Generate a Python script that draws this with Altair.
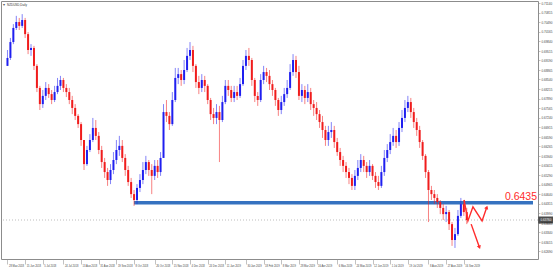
import altair as alt
import pandas as pd

# ---------------- data ----------------
symbol_label = "NZDUSD,Daily"
first_open = 0.6900

close = [
    0.6927, 0.6981, 0.7029, 0.7049, 0.7036, 0.7056, 0.7008, 0.6954, 0.6961, 0.6900,
    0.6825, 0.6770, 0.6798, 0.6825, 0.6804, 0.6784, 0.6811, 0.6832, 0.6852, 0.6825,
    0.6811, 0.6784, 0.6757, 0.6730, 0.6702, 0.6648, 0.6566, 0.6614, 0.6648, 0.6689,
    0.6662, 0.6614, 0.6573, 0.6539, 0.6512, 0.6546, 0.6580, 0.6614, 0.6628, 0.6587,
    0.6546, 0.6505, 0.6464, 0.6444, 0.6485, 0.6512, 0.6546, 0.6573, 0.6546, 0.6526,
    0.6560, 0.6539, 0.6587, 0.6743, 0.6730, 0.6702, 0.6784, 0.6859, 0.6872, 0.6852,
    0.6886, 0.6934, 0.6954, 0.6900, 0.6845, 0.6825, 0.6852, 0.6832, 0.6784, 0.6736,
    0.6723, 0.6743, 0.6716, 0.6777, 0.6832, 0.6818, 0.6791, 0.6811, 0.6798, 0.6838,
    0.6900, 0.6934, 0.6920, 0.6852, 0.6798, 0.6784, 0.6852, 0.6879, 0.6866, 0.6838,
    0.6818, 0.6784, 0.6750, 0.6777, 0.6804, 0.6825, 0.6879, 0.6920, 0.6879, 0.6798,
    0.6818, 0.6791, 0.6811, 0.6770, 0.6757, 0.6736, 0.6709, 0.6682, 0.6648, 0.6675,
    0.6682, 0.6641, 0.6607, 0.6580, 0.6560, 0.6539, 0.6519, 0.6492, 0.6526, 0.6553,
    0.6580, 0.6560, 0.6539, 0.6560, 0.6526, 0.6505, 0.6492, 0.6539, 0.6587, 0.6614,
    0.6641, 0.6662, 0.6641, 0.6689, 0.6723, 0.6757, 0.6777, 0.6743, 0.6709, 0.6682,
    0.6641, 0.6594, 0.6539, 0.6478, 0.6464, 0.6451, 0.6437, 0.6417, 0.6396, 0.6403,
    0.6362, 0.6308, 0.6328, 0.6390, 0.6430, 0.6403, 0.6376,
]
high = [
    0.6954, 0.6995, 0.7042, 0.7070, 0.7063, 0.7076, 0.7063, 0.7015, 0.6974, 0.6968,
    0.6906, 0.6832, 0.6818, 0.6845, 0.6838, 0.6818, 0.6832, 0.6859, 0.6866, 0.6859,
    0.6838, 0.6825, 0.6798, 0.6770, 0.6736, 0.6709, 0.6648, 0.6628, 0.6668, 0.6723,
    0.6716, 0.6675, 0.6628, 0.6587, 0.6553, 0.6566, 0.6607, 0.6648, 0.6662, 0.6648,
    0.6600, 0.6560, 0.6519, 0.6478, 0.6498, 0.6532, 0.6573, 0.6594, 0.6580, 0.6566,
    0.6580, 0.6580, 0.6607, 0.6770, 0.6784, 0.6743, 0.6811, 0.6893, 0.6893, 0.6886,
    0.6920, 0.6961, 0.6981, 0.6968, 0.6906, 0.6866, 0.6872, 0.6866, 0.6838, 0.6791,
    0.6757, 0.6770, 0.6764, 0.6798, 0.6852, 0.6852, 0.6832, 0.6832, 0.6832, 0.6859,
    0.6920, 0.6954, 0.6961, 0.6927, 0.6859, 0.6811, 0.6872, 0.6900, 0.6893, 0.6886,
    0.6852, 0.6825, 0.6791, 0.6798, 0.6825, 0.6852, 0.6906, 0.6940, 0.6934, 0.6900,
    0.6838, 0.6832, 0.6838, 0.6825, 0.6784, 0.6777, 0.6750, 0.6730, 0.6696, 0.6696,
    0.6709, 0.6696, 0.6655, 0.6621, 0.6594, 0.6573, 0.6553, 0.6532, 0.6546, 0.6580,
    0.6600, 0.6594, 0.6573, 0.6580, 0.6566, 0.6539, 0.6526, 0.6560, 0.6614, 0.6634,
    0.6668, 0.6689, 0.6682, 0.6709, 0.6750, 0.6784, 0.6798, 0.6791, 0.6757, 0.6723,
    0.6696, 0.6648, 0.6600, 0.6546, 0.6492, 0.6478, 0.6464, 0.6444, 0.6430, 0.6424,
    0.6410, 0.6369, 0.6349, 0.6410, 0.6451, 0.6444, 0.6417,
]
low = [
    0.6900, 0.6920, 0.6974, 0.7022, 0.7022, 0.7029, 0.6995, 0.6940, 0.6934, 0.6886,
    0.6811, 0.6750, 0.6757, 0.6784, 0.6791, 0.6770, 0.6777, 0.6804, 0.6818, 0.6811,
    0.6794, 0.6770, 0.6736, 0.6716, 0.6689, 0.6628, 0.6546, 0.6560, 0.6607, 0.6641,
    0.6648, 0.6600, 0.6553, 0.6519, 0.6492, 0.6498, 0.6532, 0.6566, 0.6594, 0.6573,
    0.6526, 0.6492, 0.6451, 0.6424, 0.6430, 0.6471, 0.6498, 0.6532, 0.6526, 0.6464,
    0.6512, 0.6519, 0.6526, 0.6648, 0.6709, 0.6682, 0.6696, 0.6777, 0.6838, 0.6832,
    0.6838, 0.6879, 0.6920, 0.6879, 0.6825, 0.6804, 0.6811, 0.6811, 0.6770, 0.6716,
    0.6702, 0.6702, 0.6573, 0.6709, 0.6770, 0.6798, 0.6777, 0.6777, 0.6784, 0.6791,
    0.6832, 0.6886, 0.6900, 0.6832, 0.6777, 0.6764, 0.6777, 0.6838, 0.6845, 0.6818,
    0.6798, 0.6764, 0.6730, 0.6736, 0.6764, 0.6791, 0.6818, 0.6866, 0.6859, 0.6784,
    0.6777, 0.6770, 0.6777, 0.6750, 0.6730, 0.6716, 0.6689, 0.6655, 0.6628, 0.6628,
    0.6655, 0.6621, 0.6594, 0.6560, 0.6539, 0.6519, 0.6498, 0.6478, 0.6478, 0.6512,
    0.6539, 0.6539, 0.6519, 0.6526, 0.6512, 0.6485, 0.6478, 0.6485, 0.6526, 0.6573,
    0.6600, 0.6628, 0.6621, 0.6628, 0.6675, 0.6709, 0.6743, 0.6723, 0.6689, 0.6662,
    0.6621, 0.6580, 0.6519, 0.6369, 0.6444, 0.6430, 0.6417, 0.6396, 0.6376, 0.6369,
    0.6342, 0.6288, 0.6281, 0.6322, 0.6383, 0.6390, 0.6362,
]

# x-axis date labels and the candle they sit on
date_labels = [
    "28 May 2018", "15 Jun 2018", "5 Jul 2018", "24 Jul 2018", "13 Aug 2018",
    "31 Aug 2018", "19 Sep 2018", "8 Oct 2018", "26 Oct 2018", "15 Nov 2018",
    "4 Dec 2018", "24 Dec 2018", "11 Jan 2019", "30 Jan 2019", "18 Feb 2019",
    "8 Mar 2019", "28 Mar 2019", "16 Apr 2019", "6 May 2019", "24 May 2019",
    "12 Jun 2019", "1 Jul 2019", "19 Jul 2019", "8 Aug 2019", "27 Aug 2019",
    "16 Sep 2019",
]
date_label_idx = [0, 6, 12, 19, 25, 31, 37, 43, 50, 56, 62, 68, 74, 81, 87, 93,
                  99, 105, 112, 118, 124, 130, 136, 143, 149, 155]

# right price-axis tick values
price_ticks = [0.71140, 0.70815, 0.70490, 0.70165, 0.69840, 0.69515, 0.69190,
               0.68865, 0.68540, 0.68215, 0.67890, 0.67565, 0.67240, 0.66915,
               0.66590, 0.66265, 0.65940, 0.65615, 0.65290, 0.64965, 0.64640,
               0.64315, 0.63990, 0.63665, 0.63340, 0.63015, 0.62690]

# support / resistance level and its anchor candle
level_price = 0.6435
level_label = "0.6435"
level_start_idx = 43

# hand-drawn red arrows (candle index, price)
zig_idx = [155.1, 156.4, 158.1, 161.2, 162.8]
zig_price = [0.6444, 0.6373, 0.6421, 0.6373, 0.6419]
down_idx = [157.5, 160.3]
down_price = [0.6362, 0.6283]

x_domain = [-0.5, 178.5]
y_domain = [0.62434, 0.71206]

BLUE = "#1f1ff0"
RED = "#f01c1c"
ARROW_RED = "#ff2b2b"

# ---------------- build frames ----------------
n = len(close)
opens = [first_open] + close[:-1]
df = pd.DataFrame({"i": list(range(n)), "open": opens, "high": high,
                   "low": low, "close": close})
df["high"] = df[["high", "open", "close"]].max(axis=1)
df["low"] = df[["low", "open", "close"]].min(axis=1)
df["dir"] = ["up" if c >= o else "down" for o, c in zip(df["open"], df["close"])]

xs = alt.Scale(domain=x_domain, nice=False, zero=False)
ys = alt.Scale(domain=y_domain, nice=False, zero=False)

label_map = ",".join(f"'{k}':'{v}'" for k, v in zip(date_label_idx, date_labels))
xaxis = alt.Axis(values=date_label_idx, labelExpr="{" + label_map + "}[datum.value]",
                 title=None, grid=False, domain=False, labelAlign="left",
                 labelOffset=1, labelFontSize=2.6, labelColor="#444",
                 labelFont="Liberation Sans", labelPadding=1, tickSize=5,
                 tickColor="#999", tickWidth=0.6, labelBaseline="top",
                 labelOverlap=False)
yaxis = alt.Axis(orient="right", values=price_ticks, format=".5f", title=None,
                 grid=False, domain=False, labelFontSize=3, labelColor="#444",
                 labelFont="Liberation Sans", labelPadding=1, tickSize=2,
                 tickColor="#999", tickWidth=0.6, labelOverlap=False)

color = alt.Color("dir:N", scale=alt.Scale(domain=["up", "down"], range=[BLUE, RED]),
                  legend=None)

base = alt.Chart(df)
wicks = base.mark_rule(strokeWidth=1, opacity=0.55).encode(
    x=alt.X("i:Q", scale=xs, axis=xaxis),
    y=alt.Y("low:Q", scale=ys, axis=yaxis),
    y2="high:Q",
    color=color,
)
bodies = base.mark_bar(size=2).encode(
    x=alt.X("i:Q", scale=xs, axis=xaxis),
    y=alt.Y("open:Q", scale=ys, axis=yaxis),
    y2="close:Q",
    color=color,
)

last_df = pd.DataFrame({"p": [close[-1]], "t": [f"{close[-1]:.5f}"]})
cur_line = alt.Chart(last_df).mark_rule(color="#bdbdbd", strokeWidth=1,
                                        strokeDash=[1, 2]).encode(
    y=alt.Y("p:Q", scale=ys, axis=yaxis))
cur_box = alt.Chart(last_df).mark_tick(orient="horizontal", size=15, thickness=7,
                                       color="black").encode(
    x=alt.value(545), y=alt.Y("p:Q", scale=ys, axis=yaxis))
cur_txt = alt.Chart(last_df).mark_text(color="white", fontSize=3,
                                       font="Liberation Sans").encode(
    x=alt.value(545), y=alt.Y("p:Q", scale=ys, axis=yaxis), text="t:N")

lvl_df = pd.DataFrame({"x": [level_start_idx], "x2": [x_domain[1]],
                       "p": [level_price], "t": [level_label]})
lvl = alt.Chart(lvl_df).mark_rule(color="#3572c0", strokeWidth=3.5).encode(
    x=alt.X("x:Q", scale=xs, axis=xaxis), x2="x2:Q",
    y=alt.Y("p:Q", scale=ys, axis=yaxis))
lvl_txt = alt.Chart(lvl_df).mark_text(color=ARROW_RED, fontSize=10.5, align="right",
                                      baseline="alphabetic", dy=-2.5,
                                      font="Liberation Sans").encode(
    x=alt.value(536), y=alt.Y("p:Q", scale=ys, axis=yaxis), text="t:N")

zig_df = pd.DataFrame({"i": zig_idx, "p": zig_price, "o": list(range(len(zig_idx)))})
zig = alt.Chart(zig_df).mark_line(color=ARROW_RED, strokeWidth=1.4).encode(
    x=alt.X("i:Q", scale=xs, axis=xaxis), y=alt.Y("p:Q", scale=ys, axis=yaxis),
    order="o:Q")
down_df = pd.DataFrame({"i": down_idx, "p": down_price, "o": [0, 1]})
down = alt.Chart(down_df).mark_line(color=ARROW_RED, strokeWidth=1.4).encode(
    x=alt.X("i:Q", scale=xs, axis=xaxis), y=alt.Y("p:Q", scale=ys, axis=yaxis),
    order="o:Q")
heads_df = pd.DataFrame({"i": [zig_idx[-1], down_idx[-1]],
                         "p": [zig_price[-1], down_price[-1]],
                         "a": [20, 160]})
heads = alt.Chart(heads_df).mark_point(shape="triangle-up", filled=True, size=18,
                                       color=ARROW_RED, opacity=1).encode(
    x=alt.X("i:Q", scale=xs, axis=xaxis), y=alt.Y("p:Q", scale=ys, axis=yaxis),
    angle=alt.Angle("a:Q", scale=None))

title_txt = alt.Chart(pd.DataFrame({"t": [symbol_label]})).mark_text(
    fontSize=3, align="left", baseline="middle", color="#333",
    font="Liberation Sans").encode(x=alt.value(6), y=alt.value(4), text="t:N")
icon = alt.Chart(pd.DataFrame({"t": ["▾"]})).mark_text(
    fontSize=4, align="left", baseline="middle", color="#555").encode(
    x=alt.value(2), y=alt.value(4), text="t:N")

chart = alt.layer(
    cur_line, lvl, wicks, bodies, zig, down, heads, lvl_txt, cur_box, cur_txt,
    title_txt, icon,
).properties(
    width=537, height=258,
    padding={"left": 1, "top": 1, "right": 15, "bottom": 8},
    autosize="none",
    background="white",
).configure_view(stroke="#8c8c8c", strokeWidth=1)

chart.save("out.html", embed_options={"renderer": "svg", "actions": False})
